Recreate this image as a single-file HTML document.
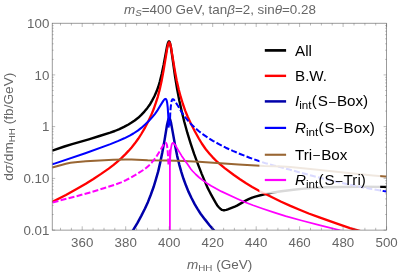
<!DOCTYPE html>
<html><head><meta charset="utf-8"><title>plot</title><style>html,body{margin:0;padding:0;background:#fff}body{width:399px;height:275px;overflow:hidden;position:relative}</style></head><body>
<svg width="399" height="275" viewBox="0 0 399 275" style="position:absolute;left:0;top:0;will-change:transform">
<rect width="399" height="275" fill="#fff"/>
<clipPath id="c"><rect x="52.2" y="23.2" width="334.4" height="206.9"/></clipPath>
<g clip-path="url(#c)" fill="none" stroke-linejoin="round">
<path d="M52.2,150.6L64.4,146.5L72.1,144.1L88.8,139.3L99.5,136.0L110.2,132.6L114.8,131.0L119.4,129.1L124.0,126.9L128.5,124.5L131.6,122.6L134.7,120.5L138.2,117.8L141.3,114.9L144.4,111.6L147.4,107.9L149.7,104.8L152.1,100.6L154.4,96.3L156.6,91.3L158.2,87.0L159.9,81.3L161.7,74.1L163.6,65.0L167.0,46.7L167.8,43.5L168.4,42.0L168.7,41.5L169.0,41.4L169.3,41.5L169.7,42.2L170.2,43.9L171.0,47.8L172.5,58.4L175.1,76.8L177.2,89.6L179.3,100.6L181.7,111.3L184.3,121.8L187.3,132.7L190.6,143.3L194.2,154.2L198.0,164.4L201.8,174.1L206.4,185.1L207.9,188.4L209.5,191.5L211.0,194.4L212.5,197.1L215.6,202.7L217.1,205.2L218.6,207.0L220.2,208.6L221.7,209.8L223.2,210.2L224.7,210.2L226.3,209.8L227.8,209.3L235.4,206.3L237.0,205.6L246.1,200.4L249.2,198.9L252.2,197.6L255.3,196.7L261.4,195.0L267.5,193.6L273.6,192.4L281.2,191.2L293.5,189.7L304.1,188.6L313.3,188.0L327.0,187.3L342.3,187.0L360.6,186.8L383.5,186.9L386.6,187.0" stroke="#000" stroke-width="2.4"/>
<path d="M52.2,202.0L65.9,194.9L76.6,189.0L85.8,183.7L93.4,179.0L101.1,173.9L108.7,168.6L113.3,165.2L116.3,162.7L120.9,158.6L125.5,154.1L128.5,150.9L131.6,147.4L134.7,143.6L138.2,138.8L141.3,134.0L145.2,127.3L148.1,121.8L151.0,115.6L153.6,109.3L155.9,102.7L157.8,96.8L159.6,89.9L161.6,81.1L163.5,70.9L167.2,48.6L168.0,44.9L168.5,43.2L168.9,42.5L169.1,42.3L169.4,42.4L169.8,42.9L170.3,44.4L171.1,47.9L172.8,58.2L174.9,70.9L176.8,81.0L178.8,89.7L180.8,97.2L182.9,104.0L185.2,110.6L187.7,116.8L190.6,123.0L194.8,131.2L198.8,138.5L201.8,143.5L204.9,148.0L206.4,150.1L209.5,153.7L212.5,157.1L217.1,161.7L220.2,164.4L224.7,168.1L233.9,175.0L240.0,179.3L246.1,183.3L252.2,186.9L259.9,191.2L266.0,194.3L281.2,201.7L290.4,205.9L299.6,209.8L308.7,213.5L319.4,217.4L337.7,223.9L350.0,228.2L362.2,231.6L366.7,232.8" stroke="#f00" stroke-width="2.3"/>
<path d="M131.6,232.7L137.5,222.8L141.4,215.6L145.0,208.5L148.0,201.9L150.7,195.0L153.5,187.3L155.9,179.4L158.2,171.4L160.2,162.6L162.3,152.5L164.6,139.9L167.0,125.0L168.0,120.8L168.5,119.2L168.9,118.5L169.1,118.3L169.4,118.3L169.8,118.7L170.3,120.0L171.1,123.1L172.5,130.9L175.3,146.5L177.2,156.1L179.2,164.3L181.3,171.8L183.5,178.8L186.0,185.6L188.6,191.9L191.5,198.0L194.8,204.3L197.5,208.9L200.6,213.7L204.9,219.4L209.5,225.2L214.1,230.6L215.6,232.5" stroke="#0000aa" stroke-width="2.5"/>
<path d="M52.2,164.4L85.3,153.2L110.4,144.1L118.4,140.9L124.3,138.3L129.7,135.6L133.4,133.5L137.8,130.6L141.3,127.9L145.1,124.6L149.0,120.8L152.1,117.4L155.0,113.8L157.8,109.8L163.1,101.1L164.3,99.5L165.0,99.0L165.5,98.9L165.9,99.0L166.3,99.6L166.7,100.6L167.2,103.0L167.7,107.3L168.2,115.0L168.7,127.6" stroke="#00f" stroke-width="2.05"/>
<path d="M169.8,125.6L170.2,114.0L170.7,107.4L171.2,103.1L171.7,100.7L172.2,99.6L172.5,99.3L172.9,99.2L173.3,99.2L174.0,99.8L175.0,101.1L178.8,107.3L182.1,112.8L184.9,116.8L188.0,120.6L191.2,124.2L194.9,127.7L198.9,131.2L203.0,134.3L208.0,137.7L212.9,140.8L218.9,144.1L225.8,147.7L232.8,150.9L240.7,154.2L249.6,157.7L259.6,161.3L265.5,163.2L273.5,165.4L289.3,169.5L312.2,175.8L328.0,179.8L340.9,182.8L356.8,186.2L371.7,189.1L383.6,191.1L386.6,191.5" stroke="#00f" stroke-width="2.05" stroke-dasharray="6 2.27" stroke-dashoffset="1.19"/>
<path d="M52.2,167.6L61.4,164.9L65.9,163.8L70.5,162.8L75.1,162.2L85.8,161.3L99.5,160.4L113.3,159.8L125.5,159.5L131.6,159.6L147.7,160.2L166.8,160.4L184.0,160.9L198.7,161.7L238.5,164.4L264.4,165.9L282.8,166.5L290.4,167.0L310.3,169.0L348.4,173.1L372.9,175.4L385.1,176.4L386.6,176.5" stroke="#996633" stroke-width="2.05"/>
<path d="M52.2,202.5L76.2,196.3L90.1,192.4L107.2,187.2L115.2,184.6L121.1,182.4L125.9,180.2L130.2,178.0L135.5,174.9L143.3,170.0L146.4,167.7L149.0,165.4L151.6,162.7L154.2,159.6L156.9,155.8L159.7,151.3L163.5,144.7L164.4,143.4L165.1,142.8L165.5,142.7L165.9,142.9L166.3,143.4L166.7,144.3L167.1,146.0L167.6,149.9L168.1,157.0L168.5,164.9" stroke="#f0f" stroke-width="2.05" stroke-dasharray="6 2.27" stroke-dashoffset="7.87"/>
<path d="M169.9,230.1V150L169.9,167.1L170.3,156.3L170.8,149.6L171.4,146.0L171.8,144.2L172.3,143.3L172.7,142.9L173.1,142.9L173.6,143.2L174.5,144.1L176.2,146.6L178.8,151.1L181.7,155.9L184.7,160.3L187.6,164.2L190.8,169.0L192.5,171.0L195.9,174.5L199.2,177.5L202.5,180.1L206.5,182.9L211.4,186.0L216.4,188.8L221.3,191.4L237.2,198.7L245.1,202.2L253.0,205.3L262.9,208.8L273.8,212.4L285.6,216.1L301.5,220.5L320.3,225.4L340.1,230.3L352.9,233.0" stroke="#f0f" stroke-width="1.7499999999999998"/>
</g>
<rect x="259.4" y="36" width="120.8" height="157.6" fill="#fff" fill-opacity="0.85"/>
<g stroke="#666" fill="none">
<rect x="52.2" y="23.2" width="334.4" height="206.9" stroke-width="0.65"/>
<path d="M60.5,230.1v-2.3M60.5,23.2v2.3M71.4,230.1v-2.3M71.4,23.2v2.3M82.2,230.1v-3.8M82.2,23.2v3.8M93.1,230.1v-2.3M93.1,23.2v2.3M104.0,230.1v-2.3M104.0,23.2v2.3M114.8,230.1v-2.3M114.8,23.2v2.3M125.7,230.1v-3.8M125.7,23.2v3.8M136.6,230.1v-2.3M136.6,23.2v2.3M147.5,230.1v-2.3M147.5,23.2v2.3M158.3,230.1v-2.3M158.3,23.2v2.3M169.2,230.1v-3.8M169.2,23.2v3.8M180.1,230.1v-2.3M180.1,23.2v2.3M190.9,230.1v-2.3M190.9,23.2v2.3M201.8,230.1v-2.3M201.8,23.2v2.3M212.7,230.1v-3.8M212.7,23.2v3.8M223.6,230.1v-2.3M223.6,23.2v2.3M234.4,230.1v-2.3M234.4,23.2v2.3M245.3,230.1v-2.3M245.3,23.2v2.3M256.2,230.1v-3.8M256.2,23.2v3.8M267.0,230.1v-2.3M267.0,23.2v2.3M277.9,230.1v-2.3M277.9,23.2v2.3M288.8,230.1v-2.3M288.8,23.2v2.3M299.6,230.1v-3.8M299.6,23.2v3.8M310.5,230.1v-2.3M310.5,23.2v2.3M321.4,230.1v-2.3M321.4,23.2v2.3M332.2,230.1v-2.3M332.2,23.2v2.3M343.1,230.1v-3.8M343.1,23.2v3.8M354.0,230.1v-2.3M354.0,23.2v2.3M364.9,230.1v-2.3M364.9,23.2v2.3M375.7,230.1v-2.3M375.7,23.2v2.3M386.6,230.1v-3.8M386.6,23.2v3.8M52.2,230.1h3.0M386.6,230.1h-3.0M52.2,214.5h1.4M386.6,214.5h-1.4M52.2,205.4h1.4M386.6,205.4h-1.4M52.2,198.9h1.4M386.6,198.9h-1.4M52.2,193.9h1.4M386.6,193.9h-1.4M52.2,189.8h1.4M386.6,189.8h-1.4M52.2,186.4h1.4M386.6,186.4h-1.4M52.2,183.4h1.4M386.6,183.4h-1.4M52.2,180.7h1.4M386.6,180.7h-1.4M52.2,178.4h3.0M386.6,178.4h-3.0M52.2,162.8h1.4M386.6,162.8h-1.4M52.2,153.7h1.4M386.6,153.7h-1.4M52.2,147.2h1.4M386.6,147.2h-1.4M52.2,142.2h1.4M386.6,142.2h-1.4M52.2,138.1h1.4M386.6,138.1h-1.4M52.2,134.7h1.4M386.6,134.7h-1.4M52.2,131.7h1.4M386.6,131.7h-1.4M52.2,129.0h1.4M386.6,129.0h-1.4M52.2,126.6h3.0M386.6,126.6h-3.0M52.2,111.1h1.4M386.6,111.1h-1.4M52.2,102.0h1.4M386.6,102.0h-1.4M52.2,95.5h1.4M386.6,95.5h-1.4M52.2,90.5h1.4M386.6,90.5h-1.4M52.2,86.4h1.4M386.6,86.4h-1.4M52.2,82.9h1.4M386.6,82.9h-1.4M52.2,79.9h1.4M386.6,79.9h-1.4M52.2,77.3h1.4M386.6,77.3h-1.4M52.2,74.9h3.0M386.6,74.9h-3.0M52.2,59.4h1.4M386.6,59.4h-1.4M52.2,50.2h1.4M386.6,50.2h-1.4M52.2,43.8h1.4M386.6,43.8h-1.4M52.2,38.8h1.4M386.6,38.8h-1.4M52.2,34.7h1.4M386.6,34.7h-1.4M52.2,31.2h1.4M386.6,31.2h-1.4M52.2,28.2h1.4M386.6,28.2h-1.4M52.2,25.6h1.4M386.6,25.6h-1.4" stroke-width="0.45"/>
</g>
<g font-family="Liberation Sans, Arial, sans-serif" font-size="13.3" fill="#666">
<text x="82.2" y="247" text-anchor="middle">360</text>
<text x="125.7" y="247" text-anchor="middle">380</text>
<text x="169.2" y="247" text-anchor="middle">400</text>
<text x="212.7" y="247" text-anchor="middle">420</text>
<text x="256.2" y="247" text-anchor="middle">440</text>
<text x="299.6" y="247" text-anchor="middle">460</text>
<text x="343.1" y="247" text-anchor="middle">480</text>
<text x="386.6" y="247" text-anchor="middle">500</text>
<text x="49.3" y="27.9" text-anchor="end">100</text>
<text x="49.3" y="79.6" text-anchor="end">10</text>
<text x="49.3" y="131.3" text-anchor="end">1</text>
<text x="49.3" y="183.1" text-anchor="end">0.10</text>
<text x="49.3" y="234.8" text-anchor="end">0.01</text>
<text x="124" y="13.8" font-size="13.4"><tspan font-style="italic">m</tspan><tspan font-style="italic" font-size="9.8" dy="2">S</tspan><tspan dy="-2">=400 GeV, tan</tspan><tspan font-style="italic">β</tspan>=2, sin<tspan font-style="italic">θ</tspan>=0.28</text>
<text x="187" y="268.8" font-size="13.5"><tspan font-style="italic">m</tspan><tspan font-size="9.8" dy="2">HH</tspan><tspan dy="-2"> (GeV)</tspan></text>
<text transform="translate(12.8,180.8) rotate(-90)" font-size="13.65">d<tspan font-style="italic">σ</tspan>/dm<tspan font-size="9.8" dy="2">HH</tspan><tspan dy="-2"> (fb/GeV)</tspan></text>
</g>
<g font-family="Liberation Sans, Arial, sans-serif" font-size="15.2" fill="#000">
<path d="M264.8,50.4H286.1" stroke="#000" stroke-width="2.7"/>
<text x="295" y="55.9">All</text>
<path d="M264.8,75.85H286.1" stroke="#f00" stroke-width="2.4"/>
<text x="295" y="81.4">B.W.</text>
<path d="M264.8,101.4H286.1" stroke="#0000aa" stroke-width="2.5"/>
<text x="295" y="106.4"><tspan font-style="italic">I</tspan><tspan font-size="11.6" dy="3">int</tspan><tspan dy="-3" dx="0.3">(</tspan><tspan dx="0.8">S</tspan><tspan font-size="12" dx="1.2" dy="-0.8">–</tspan><tspan dx="1.2" dy="0.8">Box)</tspan></text>
<path d="M264.8,127.9H286.1" stroke="#00f" stroke-width="2.2"/>
<text x="295" y="132.9"><tspan font-style="italic">R</tspan><tspan font-size="11.6" dy="3">int</tspan><tspan dy="-3" dx="0.3">(</tspan><tspan dx="0.8">S</tspan><tspan font-size="12" dx="1.2" dy="-0.8">–</tspan><tspan dx="1.2" dy="0.8">Box)</tspan></text>
<path d="M264.8,154.75H286.1" stroke="#996633" stroke-width="2.1"/>
<text x="295" y="159.8">Tri<tspan font-size="12" dx="1.2" dy="-0.8">–</tspan><tspan dx="1.2" dy="0.8">Box</tspan></text>
<path d="M264.8,180.0H286.1" stroke="#f0f" stroke-width="2.2"/>
<text x="295" y="185.3"><tspan font-style="italic">R</tspan><tspan font-size="11.6" dy="3">int</tspan><tspan dy="-3" dx="0.3">(</tspan><tspan dx="0.8">S</tspan><tspan font-size="12" dx="1.2" dy="-0.8">–</tspan><tspan dx="1.2" dy="0.8">Tri)</tspan></text>
</g>
</svg>
</body></html>
